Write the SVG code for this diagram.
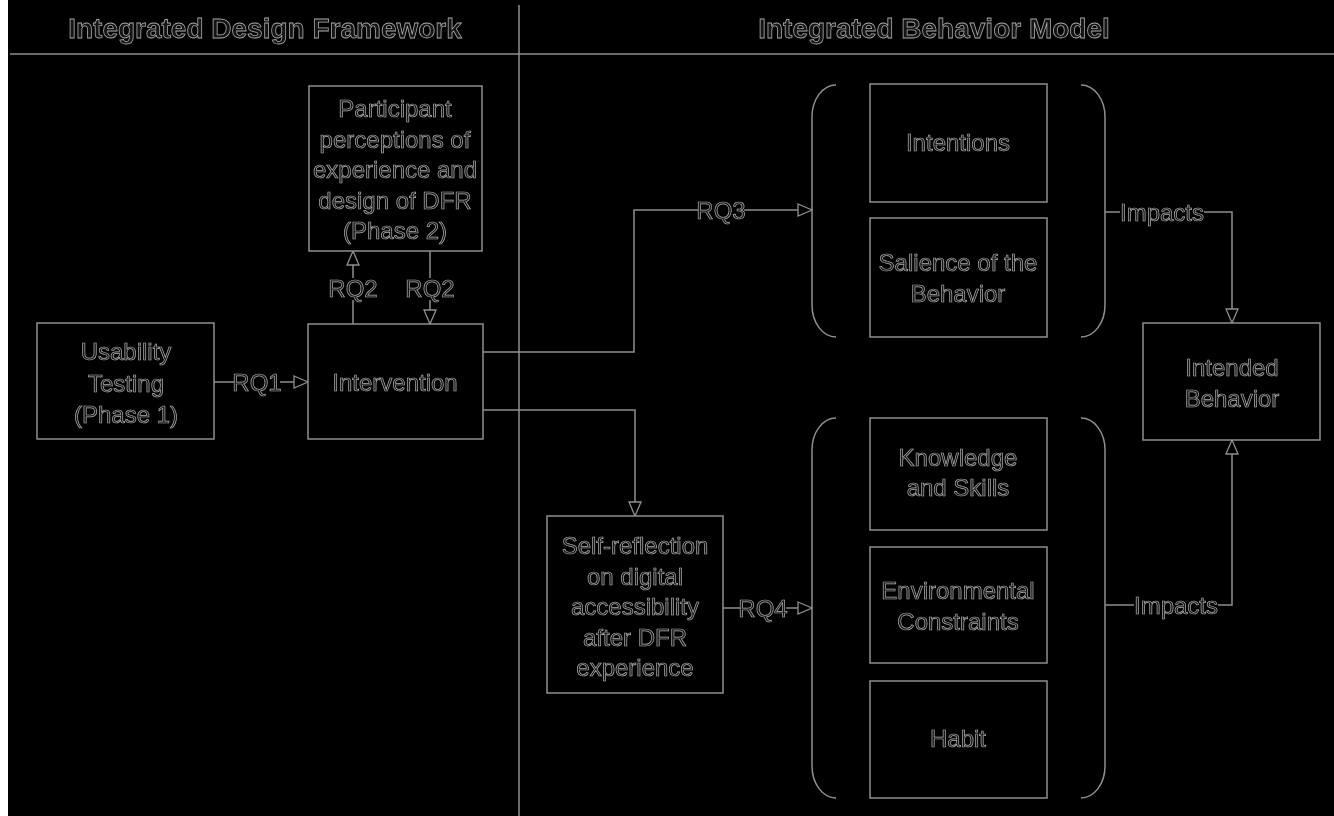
<svg xmlns="http://www.w3.org/2000/svg" width="1334" height="816" viewBox="0 0 1334 816">
<defs>
<style>
.bg{fill:#000}
.ln{fill:none;stroke:#8f8f8f;stroke-width:1.5}
.box{fill:#000;stroke:#8f8f8f;stroke-width:1.5}
.t{font-family:"Liberation Sans",Arial,sans-serif;font-size:24px;fill:#151515;stroke:#b0b0b0;stroke-width:0.7;text-anchor:middle}
.h{font-family:"Liberation Sans",Arial,sans-serif;font-size:28px;font-weight:bold;fill:#151515;stroke:#a8a8a8;stroke-width:0.8;text-anchor:middle}
.lb{fill:#000}
</style>
<filter id="gray" x="0" y="0" width="1" height="1">
<feOffset dx="0" dy="0"/>
</filter>
<marker id="arr" viewBox="0 0 16 14" refX="15" refY="7" markerWidth="16" markerHeight="14" markerUnits="userSpaceOnUse" orient="auto">
<path d="M1,1 L15,7 L1,13 Z" fill="#000" stroke="#8f8f8f" stroke-width="1.3"/>
</marker>
</defs>
<rect x="0" y="0" width="1334" height="816" fill="#fff"/>
<rect class="bg" x="8" y="0" width="1326" height="816"/>

<g filter="url(#gray)">
<g id="frame">
<line class="ln" x1="519" y1="5" x2="519" y2="816"/>
<line class="ln" x1="10" y1="54" x2="1334" y2="54"/>
<text class="h" x="265" y="38">Integrated Design Framework</text>
<text class="h" x="934" y="38">Integrated Behavior Model</text>
</g>

<g id="connectors">
<line class="ln" x1="214" y1="382" x2="308" y2="382" marker-end="url(#arr)"/>
<line class="ln" x1="353" y1="324" x2="353" y2="251" marker-end="url(#arr)"/>
<line class="ln" x1="430" y1="251" x2="430" y2="324" marker-end="url(#arr)"/>
<polyline class="ln" points="483,352 634,352 634,210 812,210" marker-end="url(#arr)"/>
<polyline class="ln" points="483,410 635,410 635,516" marker-end="url(#arr)"/>
<line class="ln" x1="723" y1="608" x2="812" y2="608" marker-end="url(#arr)"/>
<polyline class="ln" points="1105,212 1232,212 1232,323" marker-end="url(#arr)"/>
<polyline class="ln" points="1105,605 1232,605 1232,440" marker-end="url(#arr)"/>
<rect class="lb" x="234" y="372" width="46" height="22"/>
<text class="t" x="257" y="391">RQ1</text>
<rect class="lb" x="331" y="278" width="46" height="22"/>
<text class="t" x="353" y="297">RQ2</text>
<rect class="lb" x="408" y="278" width="46" height="22"/>
<text class="t" x="430" y="297">RQ2</text>
<rect class="lb" x="698" y="200" width="46" height="22"/>
<text class="t" x="721" y="219">RQ3</text>
<rect class="lb" x="740" y="598" width="46" height="22"/>
<text class="t" x="763" y="617">RQ4</text>
<rect class="lb" x="1120" y="202" width="84" height="24"/>
<text class="t" x="1162" y="221">Impacts</text>
<rect class="lb" x="1134" y="595" width="84" height="24"/>
<text class="t" x="1176" y="614">Impacts</text>
</g>

<g id="usability">
<rect class="box" x="37" y="323" width="177" height="116"/>
<text class="t" x="126" y="360">Usability</text>
<text class="t" x="126" y="392">Testing</text>
<text class="t" x="126" y="423">(Phase 1)</text>
</g>

<g id="intervention">
<rect class="box" x="308" y="324" width="175" height="115"/>
<text class="t" x="395" y="391">Intervention</text>
</g>

<g id="participant">
<rect class="box" x="309" y="86" width="173" height="165"/>
<text class="t" x="395" y="117">Participant</text>
<text class="t" x="395" y="147.5">perceptions of</text>
<text class="t" x="395" y="178">experience and</text>
<text class="t" x="395" y="208.5">design of DFR</text>
<text class="t" x="395" y="239">(Phase 2)</text>
</g>

<g id="selfreflection">
<rect class="box" x="547" y="516" width="176" height="177"/>
<text class="t" x="635" y="554">Self-reflection</text>
<text class="t" x="635" y="584.5">on digital</text>
<text class="t" x="635" y="615">accessibility</text>
<text class="t" x="635" y="645.5">after DFR</text>
<text class="t" x="635" y="676">experience</text>
</g>

<g id="upper-group">
<path class="ln" d="M836,85 A24,32 0 0 0 812,117 L812,305 A24,32 0 0 0 836,337"/>
<path class="ln" d="M1081,85 A24,32 0 0 1 1105,117 L1105,305 A24,32 0 0 1 1081,337"/>
</g>
<g id="intentions">
<rect class="box" x="870" y="84" width="177" height="118"/>
<text class="t" x="958" y="151">Intentions</text>
</g>
<g id="salience">
<rect class="box" x="870" y="218" width="177" height="119"/>
<text class="t" x="958" y="271">Salience of the</text>
<text class="t" x="958" y="302">Behavior</text>
</g>

<g id="lower-group">
<path class="ln" d="M836,418 A24,32 0 0 0 812,450 L812,766 A24,32 0 0 0 836,798"/>
<path class="ln" d="M1081,418 A24,32 0 0 1 1105,450 L1105,766 A24,32 0 0 1 1081,798"/>
</g>
<g id="knowledge">
<rect class="box" x="870" y="418" width="177" height="112"/>
<text class="t" x="958" y="466">Knowledge</text>
<text class="t" x="958" y="496">and Skills</text>
</g>
<g id="environmental">
<rect class="box" x="870" y="547" width="177" height="116"/>
<text class="t" x="958" y="599">Environmental</text>
<text class="t" x="958" y="630">Constraints</text>
</g>
<g id="habit">
<rect class="box" x="870" y="681" width="177" height="117"/>
<text class="t" x="958" y="747">Habit</text>
</g>

<g id="intended">
<rect class="box" x="1143" y="323" width="177" height="117"/>
<text class="t" x="1232" y="376">Intended</text>
<text class="t" x="1232" y="407">Behavior</text>
</g>
</g>
</svg>
